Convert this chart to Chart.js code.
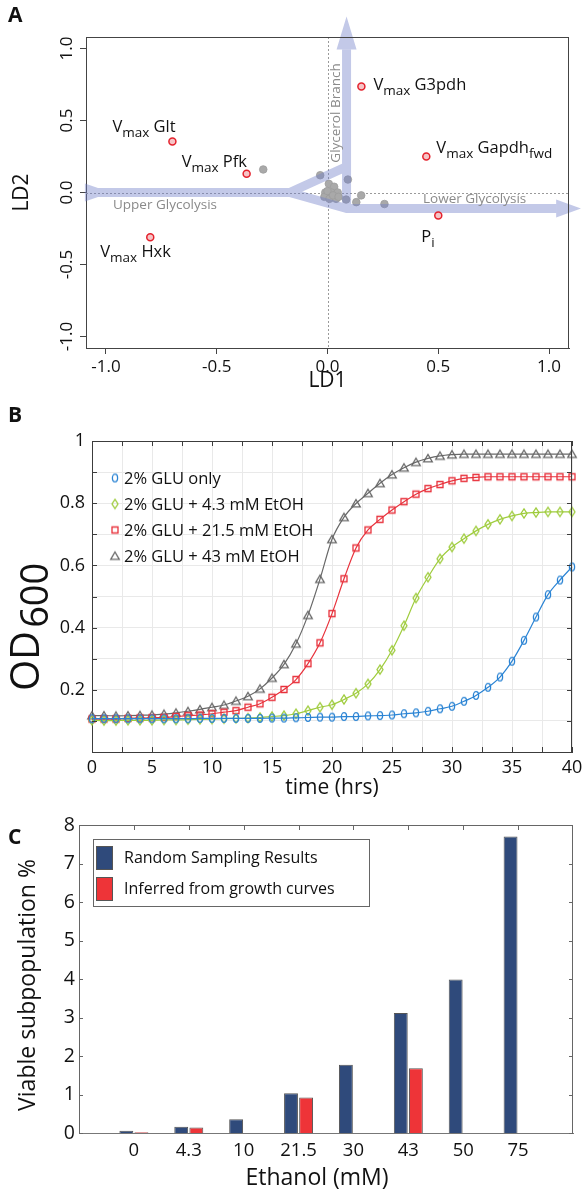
<!DOCTYPE html>
<html>
<head>
<meta charset="utf-8">
<script src="https://cdn.jsdelivr.net/npm/chart.js@4.4.1/dist/chart.umd.min.js"></script>
<style>
html,body{margin:0;padding:0;background:#fff;}
#wrap{position:relative;width:582px;height:1193px;overflow:hidden;background:#fff;}
#wrap canvas{position:absolute;left:0;}
.pl{position:absolute;left:8px;font-family:"Open Sans",sans-serif;font-weight:700;font-size:21px;line-height:21px;color:#111;}
</style>
</head>
<body>
<div id="wrap">
<canvas id="cA" width="582" height="395" style="top:0px"></canvas>
<canvas id="cB" width="582" height="405" style="top:395px"></canvas>
<canvas id="cC" width="582" height="393" style="top:800px"></canvas>
<div class="pl" style="top:4px">A</div>
<div class="pl" style="top:404px">B</div>
<div class="pl" style="top:826px">C</div>
</div>
<script>
// ================= DATA =================
// Panel A : linear discriminant loadings
const ldTicks = [-1.0, -0.5, 0.0, 0.5, 1.0];
const ldKeyLabels = [['V','max',' Glt',''], ['V','max',' Pfk',''], ['V','max',' G3pdh',''], ['V','max',' Gapdh','fwd'], ['V','max',' Hxk',''], ['P','i','','']];
const ldKeyLD1 = [-0.70, -0.365, 0.153, 0.446, -0.80, 0.50];
const ldKeyLD2 = [0.354, 0.13, 0.736, 0.25, -0.31, -0.16];
const ldOtherLD1 = [-0.29, -0.033, 0.006, 0.03, -0.01, 0.017, 0.046, -0.014, 0.009, 0.039, 0.0, 0.025, 0.05, 0.092, 0.084, 0.152, 0.13, 0.257];
const ldOtherLD2 = [0.16, 0.12, 0.06, 0.04, 0.0, 0.0, 0.0, -0.03, -0.044, -0.044, 0.01, -0.02, -0.03, 0.09, -0.049, -0.02, -0.067, -0.08];
const ldPathways = ['Upper Glycolysis', 'Lower Glycolysis', 'Glycerol Branch'];

// Panel B : growth curves
const hours = [0,1,2,3,4,5,6,7,8,9,10,11,12,13,14,15,16,17,18,19,20,21,22,23,24,25,26,27,28,29,30,31,32,33,34,35,36,37,38,39,40];
const timeTicks = [0,2.5,5,7.5,10,12.5,15,17.5,20,22.5,25,27.5,30,32.5,35,37.5,40];
const odTicks = [0,0.1,0.2,0.3,0.4,0.5,0.6,0.7,0.8,0.9,1.0];
const seriesNames = ['2% GLU only', '2% GLU + 4.3 mM EtOH', '2% GLU + 21.5 mM EtOH', '2% GLU + 43 mM EtOH'];
const odGluOnly = [0.107,0.107,0.107,0.107,0.107,0.107,0.107,0.107,0.107,0.108,0.108,0.108,0.108,0.108,0.108,0.109,0.109,0.110,0.111,0.112,0.112,0.114,0.114,0.116,0.117,0.119,0.123,0.126,0.131,0.139,0.147,0.163,0.182,0.208,0.241,0.292,0.359,0.434,0.506,0.553,0.595];
const odEtoh4_3 = [0.102,0.101,0.101,0.102,0.102,0.102,0.103,0.103,0.104,0.105,0.106,0.107,0.108,0.109,0.111,0.114,0.117,0.123,0.133,0.144,0.152,0.169,0.189,0.219,0.265,0.327,0.406,0.495,0.562,0.621,0.659,0.686,0.711,0.732,0.748,0.759,0.767,0.770,0.772,0.772,0.772];
const odEtoh21_5 = [0.106,0.106,0.106,0.108,0.109,0.110,0.111,0.114,0.117,0.119,0.123,0.128,0.133,0.144,0.155,0.176,0.201,0.233,0.284,0.351,0.445,0.557,0.656,0.714,0.748,0.778,0.805,0.829,0.847,0.860,0.872,0.880,0.883,0.885,0.885,0.885,0.885,0.885,0.885,0.885,0.885];
const odEtoh43 = [0.117,0.117,0.116,0.117,0.118,0.119,0.122,0.126,0.131,0.137,0.144,0.151,0.164,0.179,0.203,0.238,0.282,0.348,0.440,0.556,0.684,0.755,0.799,0.832,0.864,0.892,0.914,0.932,0.944,0.952,0.956,0.958,0.958,0.958,0.958,0.958,0.958,0.958,0.958,0.958,0.958];

// Panel C : viable subpopulation
const ethanolMM = ['0','4.3','10','21.5','30','43','50','75'];
const randomSampling = [0.06, 0.16, 0.36, 1.03, 1.77, 3.12, 3.99, 7.70];
const inferredGrowth = [0.02, 0.14, null, 0.92, null, 1.68, null, null];
const viableTicks = [0,1,2,3,4,5,6,7,8];
const barNames = ['Random Sampling Results', 'Inferred from growth curves'];

// ================= STYLE / HELPERS =================
const F = '"Open Sans", "DejaVu Sans", sans-serif';
Chart.defaults.font.family = F;
Chart.defaults.color = '#111';
const INK = '#111';

function rotText(ctx, s, x, y, font, color) {
  ctx.save(); ctx.translate(x, y); ctx.rotate(-Math.PI / 2);
  ctx.font = font; ctx.fillStyle = color; ctx.textAlign = 'center'; ctx.textBaseline = 'middle';
  ctx.fillText(s, 0, 0); ctx.restore();
}
function text(ctx, s, x, y, font, color, align, base) {
  ctx.save(); ctx.font = font; ctx.fillStyle = color; ctx.textAlign = align || 'center'; ctx.textBaseline = base || 'middle';
  ctx.fillText(s, x, y); ctx.restore();
}
function partsText(ctx, parts, x, y, size, sub) {
  ctx.save(); ctx.fillStyle = INK; ctx.textAlign = 'left'; ctx.textBaseline = 'alphabetic';
  let cx = x;
  parts.forEach((t, i) => {
    if (!t) return;
    const isSub = i % 2 === 1;
    ctx.font = (isSub ? sub : size) + 'px ' + F;
    ctx.fillText(t, cx, isSub ? y + size * 0.32 : y);
    cx += ctx.measureText(t).width;
  });
  ctx.restore();
}
function fixAxis(w, h) {
  return s => { if (w !== null) s.width = w; if (h !== null) s.height = h; s.paddingLeft = 0; s.paddingRight = 0; s.paddingTop = 0; s.paddingBottom = 0; };
}
function setTicks(arr) { return s => { s.ticks = arr.map(v => ({ value: v })); }; }

// ================= PANEL A =================
const ldLabelOffset = [[-60,-10],[-65,-7],[12,3],[10,-4],[-50,20],[-17,26]];
const pA = {
  id: 'pA',
  beforeDatasetsDraw(chart) {
    const { ctx, chartArea: a, scales: { x, y } } = chart;
    ctx.save(); ctx.strokeStyle = '#9a9a9a'; ctx.lineWidth = 1; ctx.setLineDash([2, 2]);
    const x0 = Math.round(x.getPixelForValue(0)) + 0.5, y0 = Math.round(y.getPixelForValue(0)) + 0.5;
    ctx.beginPath(); ctx.moveTo(x0, a.top); ctx.lineTo(x0, a.bottom); ctx.moveTo(a.left, y0); ctx.lineTo(a.right, y0); ctx.stroke();
    ctx.restore();
  },
  afterDatasetDraw(chart, args) {
    if (args.index !== 1) return;
    const { ctx, scales: { x, y } } = chart;
    const X = v => x.getPixelForValue(v), Y = v => y.getPixelForValue(v);
    const off = document.createElement('canvas'); off.width = chart.width; off.height = chart.height;
    const o = off.getContext('2d');
    o.fillStyle = o.strokeStyle = 'rgb(112,126,200)'; o.lineWidth = 9; o.lineJoin = 'round';
    o.beginPath();
    o.moveTo(X(-1.09), Y(0)); o.lineTo(X(-0.171), Y(0)); o.lineTo(X(0.086), Y(0.18));
    o.moveTo(X(-0.171), Y(0)); o.lineTo(X(0.086), Y(-0.111)); o.lineTo(X(1.035), Y(-0.111));
    o.moveTo(X(0.086), Y(-0.111)); o.lineTo(X(0.086), Y(0.995));
    o.stroke();
    o.beginPath();
    o.moveTo(X(-1.095), Y(0) - 9); o.lineTo(X(-0.977), Y(0)); o.lineTo(X(-1.095), Y(0) + 9); o.closePath();
    o.moveTo(X(0.086) - 10, Y(0.993)); o.lineTo(X(0.086), Y(1.222)); o.lineTo(X(0.086) + 10, Y(0.993)); o.closePath();
    o.moveTo(X(1.032), Y(-0.111) - 9); o.lineTo(X(1.144), Y(-0.111)); o.lineTo(X(1.032), Y(-0.111) + 9); o.closePath();
    o.fill();
    ctx.save(); ctx.globalAlpha = 0.42; ctx.drawImage(off, 0, 0); ctx.restore();
  },
  afterDraw(chart) {
    const { ctx, chartArea: a, scales: { x, y } } = chart;
    ctx.save(); ctx.strokeStyle = '#444'; ctx.lineWidth = 1;
    ctx.beginPath(); ctx.moveTo(a.left, a.top + 0.5); ctx.lineTo(a.right, a.top + 0.5);
    ctx.moveTo(a.right - 0.5, a.top); ctx.lineTo(a.right - 0.5, a.bottom); ctx.stroke(); ctx.restore();
    // rotated y tick labels
    ldTicks.forEach(v => rotText(ctx, v.toFixed(1), 67, y.getPixelForValue(v), '17px ' + F, INK));
    // pathway names
    text(ctx, ldPathways[0], 113, 205, '13.5px ' + F, '#8a8a8a', 'left');
    text(ctx, ldPathways[1], 423, 199, '13.5px ' + F, '#8a8a8a', 'left');
    rotText(ctx, ldPathways[2], 336, 113, '13.5px ' + F, '#8a8a8a');
    // key labels
    ldKeyLabels.forEach((p, i) => {
      const px = x.getPixelForValue(ldKeyLD1[i]) + ldLabelOffset[i][0];
      const py = y.getPixelForValue(ldKeyLD2[i]) + ldLabelOffset[i][1];
      partsText(ctx, p, px, py, 16.5, 13.5);
    });
    // axis titles
    text(ctx, 'LD1', (a.left + a.right) / 2, 381, '21px ' + F, INK);
    rotText(ctx, 'LD2', 22, (a.top + a.bottom) / 2, '21px ' + F, INK);
  }
};

new Chart(document.getElementById('cA'), {
  type: 'scatter',
  data: { datasets: [
    { label: 'Key parameters', data: ldKeyLD1.map((v, i) => ({ x: v, y: ldKeyLD2[i] })),
      pointRadius: 3.5, pointBackgroundColor: '#f6c4c6', pointBorderColor: '#e4212c', pointBorderWidth: 1.5 },
    { label: 'Other parameters', data: ldOtherLD1.map((v, i) => ({ x: v, y: ldOtherLD2[i] })),
      pointRadius: 3.8, pointBackgroundColor: '#a9a9a9', pointBorderColor: '#9c9c9c', pointBorderWidth: 0.8 }
  ]},
  options: {
    responsive: false, animation: false, devicePixelRatio: 1, events: [],
    layout: { padding: { left: 0, right: 13, top: 37, bottom: 0 } },
    plugins: { legend: { display: false }, tooltip: { enabled: false } },
    scales: {
      x: { type: 'linear', min: -1.09, max: 1.09, afterBuildTicks: setTicks(ldTicks), afterFit: fixAxis(null, 47),
        ticks: { callback: v => v.toFixed(1), font: { size: 17 }, color: INK, padding: 3, maxRotation: 0, autoSkip: false },
        grid: { drawOnChartArea: false, drawTicks: true, tickLength: 6, tickColor: '#444' }, border: { color: '#444' } },
      y: { type: 'linear', min: -1.08, max: 1.08, afterBuildTicks: setTicks(ldTicks), afterFit: fixAxis(86, null),
        ticks: { display: false },
        grid: { drawOnChartArea: false, drawTicks: true, tickLength: 6, tickColor: '#444' }, border: { color: '#444' } }
    }
  },
  plugins: [pA]
});

// ================= PANEL B =================
const colB = ['#2b84d4', '#9fcc3d', '#e8323c', '#686868'];
function mk(kind, color) {
  const c = document.createElement('canvas'); c.width = 12; c.height = 13;
  const g = c.getContext('2d'); g.strokeStyle = color; g.lineWidth = 1.3; g.beginPath();
  const cx = 6, cy = 6.5;
  if (kind === 'o') g.ellipse(cx, cy, 2.6, 3.8, 0, 0, Math.PI * 2);
  if (kind === 'd') { g.moveTo(cx, cy - 4.6); g.lineTo(cx + 3, cy); g.lineTo(cx, cy + 4.6); g.lineTo(cx - 3, cy); g.closePath(); }
  if (kind === 's') g.rect(cx - 3, cy - 3, 6, 6);
  if (kind === 't') { g.moveTo(cx, cy - 4); g.lineTo(cx + 4.3, cy + 3.3); g.lineTo(cx - 4.3, cy + 3.3); g.closePath(); }
  g.stroke();
  return c;
}
const mkB = [mk('o', colB[0]), mk('d', colB[1]), mk('s', colB[2]), mk('t', colB[3])];
const seriesB = [odGluOnly, odEtoh4_3, odEtoh21_5, odEtoh43];

const pB = {
  id: 'pB',
  afterDraw(chart) {
    const { ctx, chartArea: a, scales: { x, y } } = chart;
    ctx.save(); ctx.strokeStyle = '#3c3c3c'; ctx.lineWidth = 1; ctx.beginPath();
    ctx.moveTo(a.left, a.top + 0.5); ctx.lineTo(a.right, a.top + 0.5);
    ctx.moveTo(a.right - 0.5, a.top); ctx.lineTo(a.right - 0.5, a.bottom);
    timeTicks.forEach(t => { const px = Math.round(x.getPixelForValue(t)) + 0.5;
      ctx.moveTo(px, a.bottom); ctx.lineTo(px, a.bottom - 5); ctx.moveTo(px, a.top); ctx.lineTo(px, a.top + 5); });
    odTicks.forEach(v => { const py = Math.round(y.getPixelForValue(v)) + 0.5;
      ctx.moveTo(a.left, py); ctx.lineTo(a.left + 5, py); ctx.moveTo(a.right, py); ctx.lineTo(a.right - 5, py); });
    ctx.stroke(); ctx.restore();
    // legend
    seriesNames.forEach((n, i) => {
      const cy = 83 + i * 26;
      ctx.drawImage(mkB[i], 115 - 6, cy - 6.5);
      text(ctx, n, 124, cy + 1, '16.5px ' + F, INK, 'left');
    });
    // axis titles
    text(ctx, 'time (hrs)', (a.left + a.right) / 2, 393, '21px ' + F, INK);
    ctx.save(); ctx.translate(28, 296); ctx.rotate(-Math.PI / 2); ctx.fillStyle = INK;
    ctx.textAlign = 'left'; ctx.textBaseline = 'middle';
    ctx.font = '40px ' + F; ctx.fillText('OD', 0, 0);
    const w = ctx.measureText('OD').width;
    ctx.font = '38px ' + F; ctx.fillText('600', w + 3, 9);
    ctx.restore();
  }
};

new Chart(document.getElementById('cB'), {
  type: 'line',
  data: { datasets: seriesB.map((s, i) => ({
    label: seriesNames[i], data: hours.map((t, k) => ({ x: t, y: s[k] })),
    borderColor: colB[i], borderWidth: 1.2, pointStyle: mkB[i], pointRadius: 4,
    cubicInterpolationMode: 'monotone', fill: false, clip: false
  })) },
  options: {
    responsive: false, animation: false, devicePixelRatio: 1, events: [],
    layout: { padding: { left: 0, right: 10, top: 46, bottom: 0 } },
    plugins: { legend: { display: false }, tooltip: { enabled: false } },
    scales: {
      x: { type: 'linear', min: 0, max: 40, afterBuildTicks: setTicks(timeTicks), afterFit: fixAxis(null, 48),
        ticks: { callback: v => (Math.round(v * 2) % 10 === 0 ? String(v) : ''), font: { size: 18 }, color: INK, padding: 5, maxRotation: 0, autoSkip: false },
        grid: { color: '#e9e9e9', drawTicks: false }, border: { color: '#3c3c3c' } },
      y: { type: 'linear', min: 0, max: 1, afterBuildTicks: setTicks(odTicks), afterFit: fixAxis(92, null),
        ticks: { callback: v => { const k = Math.round(v * 10); return (k > 0 && k % 2 === 0) ? (k === 10 ? '1' : (k / 10).toFixed(1)) : ''; }, font: { size: 18 }, color: INK, padding: 7, autoSkip: false },
        grid: { color: '#e9e9e9', drawTicks: false }, border: { color: '#3c3c3c' } }
    }
  },
  plugins: [pB]
});

// ================= PANEL C =================
const colC = ['#2f4a7b', '#ee3438'];
const pC = {
  id: 'pC',
  afterDraw(chart) {
    const { ctx, chartArea: a, scales: { x, y } } = chart;
    ctx.save(); ctx.strokeStyle = '#666'; ctx.lineWidth = 1; ctx.beginPath();
    ctx.moveTo(a.left, a.top + 0.5); ctx.lineTo(a.right, a.top + 0.5);
    ctx.moveTo(a.right - 0.5, a.top); ctx.lineTo(a.right - 0.5, a.bottom);
    ethanolMM.forEach((c, i) => { const px = Math.round(x.getPixelForValue(i + 1)) + 0.5;
      ctx.moveTo(px, a.top); ctx.lineTo(px, a.top + 5); });
    viableTicks.forEach(v => { const py = Math.round(y.getPixelForValue(v)) + 0.5;
      ctx.moveTo(a.left, py); ctx.lineTo(a.left + 4, py); ctx.moveTo(a.right, py); ctx.lineTo(a.right - 4, py); });
    ctx.stroke();
    // legend box
    ctx.fillStyle = '#fff'; ctx.fillRect(93.5, 39.5, 276, 67); ctx.strokeStyle = '#666'; ctx.strokeRect(93.5, 39.5, 276, 67);
    barNames.forEach((n, i) => {
      const top = 46 + i * 31;
      ctx.fillStyle = colC[i]; ctx.fillRect(96.5, top + 0.5, 16, 23); ctx.strokeStyle = '#555'; ctx.strokeRect(96.5, top + 0.5, 16, 23);
      text(ctx, n, 124, top + 12, '16px ' + F, INK, 'left');
    });
    ctx.restore();
    text(ctx, 'Ethanol (mM)', 317, 378, '23px ' + F, INK);
    rotText(ctx, 'Viable subpopulation %', 28, 185, '23px ' + F, INK);
  }
};

new Chart(document.getElementById('cC'), {
  type: 'bar',
  data: { labels: [''].concat(ethanolMM, ['']), datasets: [
    { label: barNames[0], data: [null].concat(randomSampling, [null]), backgroundColor: colC[0], borderColor: '#555', borderWidth: 1, categoryPercentage: 0.55, barPercentage: 0.92 },
    { label: barNames[1], data: [null].concat(inferredGrowth, [null]), backgroundColor: colC[1], borderColor: '#555', borderWidth: 1, categoryPercentage: 0.55, barPercentage: 0.92 }
  ]},
  options: {
    responsive: false, animation: false, devicePixelRatio: 1, events: [],
    layout: { padding: { left: 0, right: 9, top: 25, bottom: 0 } },
    plugins: { legend: { display: false }, tooltip: { enabled: false } },
    scales: {
      x: { type: 'category', offset: false, afterFit: fixAxis(null, 60),
        ticks: { font: { size: 18.5 }, color: INK, padding: 7, maxRotation: 0, autoSkip: false },
        grid: { display: false, drawTicks: false }, border: { color: '#777' } },
      y: { type: 'linear', min: 0, max: 8, afterBuildTicks: setTicks(viableTicks), afterFit: fixAxis(79, null),
        ticks: { font: { size: 19.5 }, color: INK, padding: 4, autoSkip: false },
        grid: { display: false, drawTicks: false }, border: { color: '#666' } }
    }
  },
  plugins: [pC]
});
</script>
</body>
</html>
